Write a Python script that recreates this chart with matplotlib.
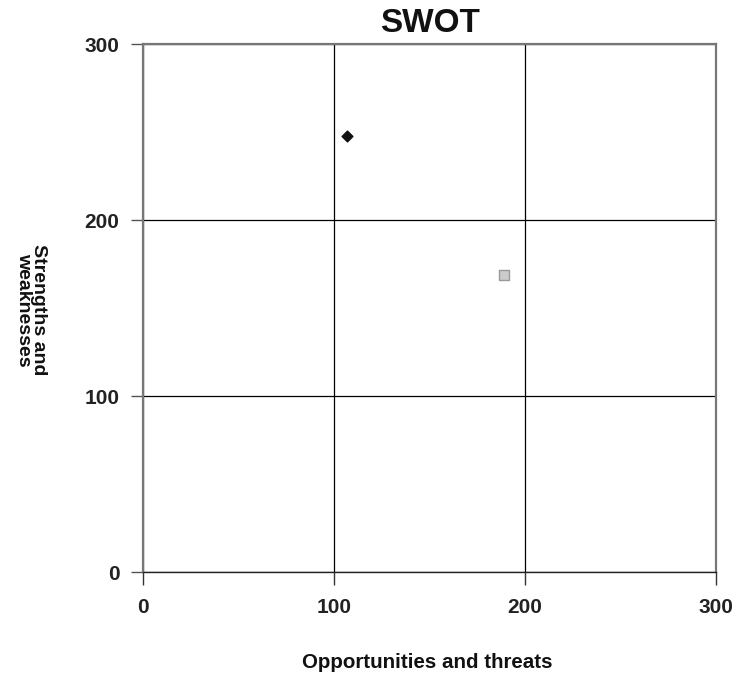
import matplotlib
matplotlib.use("Agg")
import matplotlib.pyplot as plt

plt.rcParams['font.family'] = ['Liberation Sans', 'DejaVu Sans']

series_names = ["Series A", "Series B"]
x_vals = [107, 189]
y_vals = [248, 169]
ticks = [0, 100, 200, 300]
tick_labels = ["0", "100", "200", "300"]

fig = plt.figure(figsize=(7.35, 6.82), dpi=100)
ax = fig.add_axes([143/735, 1 - 572/682, (716-143)/735, (572-44)/682])

ax.set_xlim(0, 300)
ax.set_ylim(0, 300)
ax.set_xticks(ticks)
ax.set_yticks(ticks)
ax.set_xticklabels(tick_labels, fontweight='bold', fontsize=15, color='#222222')
ax.set_yticklabels(tick_labels, fontweight='bold', fontsize=15, color='#222222')
ax.tick_params(axis='x', direction='out', length=9, width=1, pad=10, color='#333333')
ax.tick_params(axis='y', direction='out', length=9, width=1, pad=8, color='#555555')

ax.grid(True, color='black', linewidth=0.9)
ax.set_axisbelow(True)

for side in ['top', 'right', 'left']:
    ax.spines[side].set_color('#777777')
    ax.spines[side].set_linewidth(1.6)
ax.spines['bottom'].set_color('#222222')
ax.spines['bottom'].set_linewidth(1.0)

ax.scatter([x_vals[0]], [y_vals[0]], marker='D', s=30, color='#111111', zorder=3)
ax.scatter([x_vals[1]], [y_vals[1]], marker='s', s=55, facecolor='#cccccc',
           edgecolor='#999999', linewidth=1, zorder=3)

fig.text(430/735, 1 - 23/682, "SWOT", ha='center', va='center',
         fontsize=24, fontweight='bold', color='#111111')
fig.text(427/735, 1 - 663/682, "Opportunities and threats", ha='center', va='center',
         fontsize=14.8, fontweight='bold', color='#111111')
fig.text(31/735, 1 - 310/682, "Strengths and\nweaknesses", ha='center', va='center',
         rotation=270, fontsize=14, fontweight='bold', color='#111111',
         linespacing=0.9)

fig.savefig("out.png", dpi=100)
